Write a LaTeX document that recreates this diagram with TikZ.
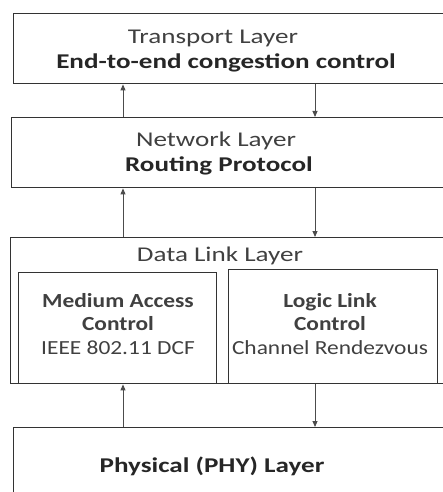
\documentclass[tikz,border=0pt]{standalone}
\usepackage{fontspec}
\setmainfont{Carlito}
\usetikzlibrary{arrows.meta}
\tikzset{>={Triangle[width=5pt,length=6pt]}}

\begin{document}
\begin{tikzpicture}[x=1pt, y=-1pt]
\tikzset{layer/.style={draw=black!80, line width=1.4pt, rectangle, inner sep=0pt, anchor=north west},
  updown/.style={draw=black!70, line width=0.9pt, ->},
  txt/.style={text=black!75, font=\fontsize{21}{23.5}\selectfont, xscale=1.29, transform shape},
  txtb/.style={txt, text=black!85, font=\fontsize{21}{23.5}\selectfont\bfseries},
  subtxt/.style={text=black!75, align=center, font=\fontsize{20}{23.5}\selectfont, xscale=1.17, transform shape}}
\useasboundingbox (0,0) rectangle (443,492);
\begin{scope}
    \clip (0,0) rectangle (443,492);
    \coordinate (up) at (123,0);
    \coordinate (dn) at (315,0);

    % layers
    \node[layer, minimum width=460pt, minimum height=70pt] (TL) at (13,13) {};
    \node[layer, minimum width=460pt, minimum height=70pt] (NL) at (11,117) {};
    \node[layer, minimum width=460pt, minimum height=146pt] (DL) at (10,237) {};
    \node[layer, minimum width=460pt, minimum height=90pt] (PL) at (13,427) {};

    % sub-layers of the data link layer
    \node[layer, minimum width=198pt, minimum height=111pt] (MAC) at (18,272) {};
    \node[layer, minimum width=209pt, minimum height=114pt] (LLC) at (228,269) {};
    \node[subtxt] (MACa) at (118,324) {\textbf{Medium Access}\\\textbf{Control}\\IEEE 802.11 DCF};
    \node[subtxt] (LLCa) at (330,324) {\textbf{Logic Link}\\\textbf{Control}\\Channel Rendezvous};

    % texts
    \node[txt] (TLa) at (213,38) {Transport Layer};
    \node[txtb] (TLb) at (226,63) {End-to-end congestion control};
    \node[txt] (NLa) at (216,141) {Network Layer};
    \node[txtb] (NLb) at (219,166) {Routing Protocol};
    \node[txt] (DLa) at (220,256) {Data Link Layer};
    \node[txtb] (PLa) at (212,466) {Physical (PHY) Layer};

    % arrows
    \draw[updown] (NL.north -| up) -- (TL.south -| up);
    \draw[updown] (TL.south -| dn) -- (NL.north -| dn);
    \draw[updown] (DL.north -| up) -- (NL.south -| up);
    \draw[updown] (NL.south -| dn) -- (DL.north -| dn);
    \draw[updown] (PL.north -| up) -- (MAC.south -| up);
    \draw[updown] (LLC.south -| dn) -- (PL.north -| dn);
\end{scope}
\end{tikzpicture}
\end{document}
